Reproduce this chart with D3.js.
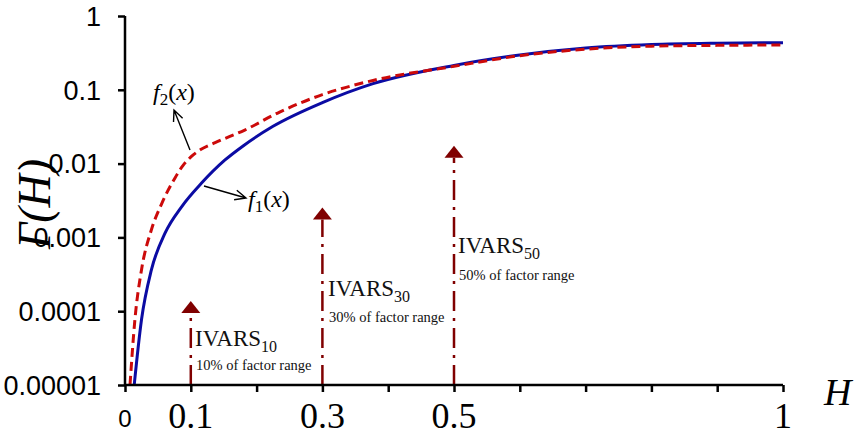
<!DOCTYPE html>
<html>
<head>
<meta charset="utf-8">
<script src="https://cdn.jsdelivr.net/npm/d3@7/dist/d3.min.js"></script>
<style>
  html, body { margin: 0; padding: 0; background: #fff; }
  svg { display: block; }
</style>
</head>
<body>
<svg id="chart" width="854" height="436"></svg>
<script>
// Variogram-type curves Γ(H) for two response surfaces
const hF1 = [0.014, 0.025, 0.040, 0.061, 0.086, 0.116, 0.152, 0.180, 0.225, 0.300, 0.377, 0.500, 0.600, 0.700, 0.800, 0.900, 1.000];
const gF1 = [1e-5, 7.6e-5, 3.6e-4, 1.15e-3, 2.6e-3, 5.4e-3, 0.0112, 0.0175, 0.032, 0.067, 0.121, 0.214, 0.296, 0.368, 0.410, 0.428, 0.435];

const hF2 = [0.0076, 0.015, 0.025, 0.040, 0.056, 0.076, 0.088, 0.101, 0.115, 0.137, 0.182, 0.235, 0.300, 0.377, 0.500, 0.600, 0.700, 0.800, 0.900, 1.000];
const gF2 = [1e-5, 7.6e-5, 3.6e-4, 1.26e-3, 2.9e-3, 6.4e-3, 0.0094, 0.0125, 0.0155, 0.0192, 0.0285, 0.050, 0.086, 0.134, 0.208, 0.290, 0.355, 0.390, 0.400, 0.405];

// Axis ticks
const yTicks = [1e-5, 1e-4, 1e-3, 1e-2, 1e-1, 1];
const yTickLabels = ["0.00001", "0.0001", "0.001", "0.01", "0.1", "1"];
const xTicks = [0, 0.1, 0.2, 0.3, 0.4, 0.5, 0.6, 0.7, 0.8, 0.9, 1];
const xLabelValues = [0.1, 0.3, 0.5, 1];
const xLabelTexts = ["0.1", "0.3", "0.5", "1"];

// IVARS markers: scale H, arrow tip value (Γ), label
const ivarsH = [0.1, 0.3, 0.5];
const ivarsTip = [1.38e-4, 2.55e-3, 1.75e-2];
const ivarsSub = ["10", "30", "50"];
const ivarsNote = ["10% of factor range", "30% of factor range", "50% of factor range"];

const svg = d3.select("#chart");
const x = d3.scaleLinear().domain([0, 1]).range([125, 783]);
const y = d3.scaleLog().domain([1e-5, 1]).range([385, 16]);

// Curves
const line = d3.line()
  .x(d => x(d[0]))
  .y(d => y(d[1]))
  .curve(d3.curveMonotoneX);

svg.append("path")
  .datum(d3.zip(hF1, gF1))
  .attr("d", line)
  .attr("fill", "none")
  .attr("stroke", "#0b0ba3")
  .attr("stroke-width", 3);

svg.append("path")
  .datum(d3.zip(hF2, gF2))
  .attr("d", line)
  .attr("fill", "none")
  .attr("stroke", "#cc0a0a")
  .attr("stroke-width", 3)
  .attr("stroke-dasharray", "9,5");

// IVARS markers
const darkRed = "#800000";
ivarsH.forEach((h, i) => {
  const px = x(h);
  const tipY = y(ivarsTip[i]);
  const baseY = tipY + 12;
  svg.append("line")
    .attr("x1", px).attr("x2", px)
    .attr("y1", y(1e-5)).attr("y2", baseY)
    .attr("stroke", darkRed)
    .attr("stroke-width", 2.5)
    .attr("stroke-dasharray", "20,7,3,7");
  svg.append("path")
    .attr("d", `M${px},${tipY} L${px - 9.5},${baseY} L${px + 9.5},${baseY} Z`)
    .attr("fill", darkRed);
});

// IVARS labels
const labelPos = [[195, 346, 370], [328, 296, 322], [458, 253, 280]];
ivarsH.forEach((h, i) => {
  const [lx, ly, ny] = labelPos[i];
  const t = svg.append("text")
    .attr("x", lx).attr("y", ly)
    .attr("font-family", "'Liberation Serif', 'Times New Roman', serif")
    .attr("font-size", 23)
    .attr("fill", "#111");
  t.append("tspan").text("IVARS");
  t.append("tspan").attr("font-size", 16).attr("dy", 6).text(ivarsSub[i]);
  svg.append("text")
    .attr("x", lx + 1).attr("y", ny)
    .attr("font-family", "'Liberation Serif', 'Times New Roman', serif")
    .attr("font-size", 14.5)
    .attr("fill", "#111")
    .text(ivarsNote[i]);
});

// Axes
const yAxis = d3.axisLeft(y).tickValues(yTicks).tickSize(7).tickFormat("");
const gy = svg.append("g").attr("transform", `translate(${x(0)},0)`).call(yAxis);
const xAxis = d3.axisBottom(x).tickValues(xTicks).tickSize(7).tickFormat("");
const gx = svg.append("g").attr("transform", `translate(0,${y(1e-5)})`).call(xAxis);
[gy, gx].forEach(g => {
  g.select(".domain").attr("stroke", "#000").attr("stroke-width", 2.5);
  g.selectAll(".tick line").attr("stroke", "#000").attr("stroke-width", 2.5);
});
gy.select(".domain").attr("d", `M0,${y(1)}V${y(1e-5)}`);
gx.select(".domain").attr("d", `M${x(0)},0H${x(1)}`);

// Y tick labels
svg.append("g").selectAll("text")
  .data(yTicks)
  .join("text")
  .attr("x", 101)
  .attr("y", d => y(d))
  .attr("dy", "0.36em")
  .attr("text-anchor", "end")
  .attr("font-family", "'Liberation Sans', Arial, sans-serif")
  .attr("font-size", 27)
  .attr("fill", "#000")
  .text((d, i) => yTickLabels[i]);

// X tick labels
svg.append("text")
  .attr("x", x(0)).attr("y", 427)
  .attr("text-anchor", "middle")
  .attr("font-family", "'Liberation Sans', Arial, sans-serif")
  .attr("font-size", 24)
  .attr("fill", "#000")
  .text("0");
svg.append("g").selectAll("text")
  .data(xLabelValues)
  .join("text")
  .attr("x", d => x(d))
  .attr("y", 428)
  .attr("text-anchor", "middle")
  .attr("font-family", "'Liberation Serif', 'Times New Roman', serif")
  .attr("font-size", 36)
  .attr("fill", "#000")
  .text((d, i) => xLabelTexts[i]);

// Axis titles
svg.append("text")
  .attr("x", 824).attr("y", 405)
  .attr("font-family", "'Liberation Serif', 'Times New Roman', serif")
  .attr("font-style", "italic")
  .attr("font-size", 38)
  .attr("fill", "#000")
  .text("H");

svg.append("text")
  .attr("transform", "translate(50,204) rotate(-90)")
  .attr("text-anchor", "middle")
  .attr("font-family", "'Liberation Serif', 'Times New Roman', serif")
  .attr("font-style", "italic")
  .attr("font-size", 46)
  .attr("fill", "#000")
  .text("Γ(H)");

// Curve name labels with arrows
function arrow(x1, y1, x2, y2) {
  const ang = Math.atan2(y2 - y1, x2 - x1);
  const len = 12, spread = 0.42;
  const a1 = [x2 - len * Math.cos(ang - spread), y2 - len * Math.sin(ang - spread)];
  const a2 = [x2 - len * Math.cos(ang + spread), y2 - len * Math.sin(ang + spread)];
  svg.append("path")
    .attr("d", `M${x1},${y1}L${x2},${y2}M${a1[0]},${a1[1]}L${x2},${y2}L${a2[0]},${a2[1]}`)
    .attr("fill", "none")
    .attr("stroke", "#000")
    .attr("stroke-width", 1.4);
}
function fLabel(lx, ly, sub) {
  const t = svg.append("text")
    .attr("x", lx).attr("y", ly)
    .attr("font-family", "'Liberation Serif', 'Times New Roman', serif")
    .attr("font-size", 24)
    .attr("fill", "#000");
  t.append("tspan").attr("font-style", "italic").text("f");
  t.append("tspan").attr("font-size", 17).attr("dy", 5).text(sub);
  t.append("tspan").attr("dy", -5).text("(");
  t.append("tspan").attr("font-style", "italic").text("x");
  t.append("tspan").text(")");
}
arrow(190, 150, 174, 110);
fLabel(153, 100, "2");
arrow(204, 186, 246, 198);
fLabel(248, 207, "1");
</script>
</body>
</html>
